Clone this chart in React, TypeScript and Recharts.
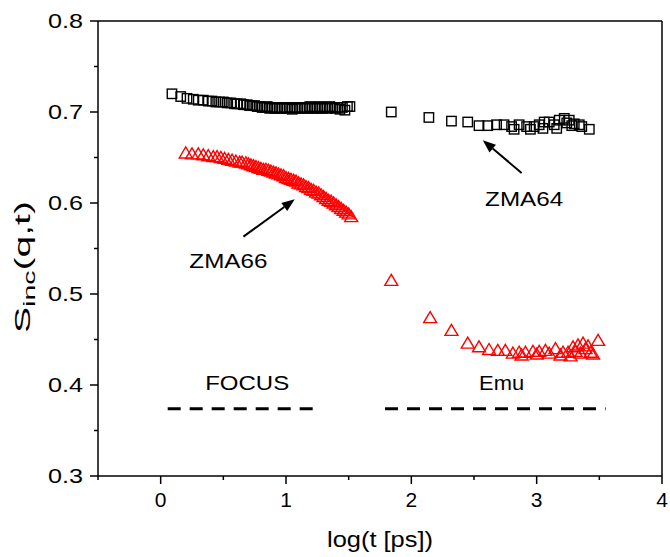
import React from 'react';
import { ScatterChart, Scatter, XAxis, YAxis, ReferenceLine, ReferenceDot } from 'recharts';

// ZMA64, FOCUS part (log t, S_inc)
const zma64FocusX = [0.09, 0.16, 0.21, 0.26, 0.3, 0.34, 0.38, 0.41, 0.44, 0.47, 0.5, 0.53, 0.56, 0.59, 0.61, 0.64, 0.66, 0.69, 0.71, 0.73, 0.75, 0.77, 0.79, 0.81, 0.83, 0.85, 0.87, 0.89, 0.91, 0.93, 0.95, 0.97, 0.99, 1.01, 1.03, 1.05, 1.07, 1.09, 1.11, 1.13, 1.15, 1.17, 1.19, 1.21, 1.23, 1.25, 1.27, 1.29, 1.31, 1.33, 1.35, 1.37, 1.39, 1.41, 1.43, 1.45, 1.47, 1.49, 1.51];
const zma64FocusY = [0.72, 0.717, 0.715, 0.714, 0.713, 0.713, 0.712, 0.712, 0.711, 0.711, 0.711, 0.71, 0.71, 0.709, 0.709, 0.709, 0.708, 0.708, 0.707, 0.707, 0.707, 0.706, 0.706, 0.705, 0.705, 0.706, 0.704, 0.705, 0.704, 0.705, 0.704, 0.704, 0.705, 0.704, 0.705, 0.703, 0.705, 0.704, 0.705, 0.704, 0.705, 0.704, 0.706, 0.704, 0.705, 0.704, 0.706, 0.704, 0.705, 0.704, 0.706, 0.705, 0.704, 0.705, 0.703, 0.705, 0.702, 0.706, 0.706];

// ZMA64, Emu part
const zma64EmuX = [1.84, 2.14, 2.32, 2.45, 2.54, 2.61, 2.68, 2.74, 2.8, 2.82, 2.86, 2.92, 2.95, 2.98, 3.02, 3.05, 3.06, 3.1, 3.14, 3.16, 3.18, 3.22, 3.24, 3.26, 3.28, 3.3, 3.34, 3.36, 3.42];
const zma64EmuY = [0.7, 0.694, 0.69, 0.689, 0.685, 0.685, 0.686, 0.686, 0.684, 0.681, 0.686, 0.684, 0.681, 0.684, 0.686, 0.682, 0.689, 0.689, 0.686, 0.682, 0.691, 0.693, 0.688, 0.691, 0.685, 0.687, 0.686, 0.684, 0.681];

// ZMA66, FOCUS part
const zma66FocusX = [0.2, 0.25, 0.3, 0.34, 0.38, 0.42, 0.45, 0.48, 0.51, 0.54, 0.57, 0.6, 0.63, 0.65, 0.68, 0.7, 0.72, 0.74, 0.76, 0.78, 0.8, 0.82, 0.84, 0.86, 0.88, 0.9, 0.92, 0.94, 0.96, 0.98, 1.0, 1.02, 1.04, 1.06, 1.08, 1.1, 1.12, 1.14, 1.16, 1.18, 1.2, 1.22, 1.24, 1.26, 1.28, 1.3, 1.32, 1.34, 1.36, 1.38, 1.4, 1.42, 1.44, 1.46, 1.48, 1.5, 1.52];
const zma66FocusY = [0.655, 0.654, 0.654, 0.653, 0.652, 0.651, 0.651, 0.65, 0.649, 0.648, 0.647, 0.646, 0.645, 0.645, 0.644, 0.643, 0.642, 0.641, 0.64, 0.639, 0.638, 0.637, 0.637, 0.636, 0.635, 0.634, 0.633, 0.632, 0.631, 0.63, 0.628, 0.627, 0.626, 0.625, 0.624, 0.622, 0.621, 0.62, 0.618, 0.617, 0.615, 0.614, 0.612, 0.611, 0.609, 0.607, 0.605, 0.603, 0.602, 0.6, 0.598, 0.596, 0.594, 0.592, 0.59, 0.588, 0.585];

// ZMA66, Emu part
const zma66EmuX = [1.84, 2.15, 2.32, 2.45, 2.54, 2.62, 2.69, 2.75, 2.81, 2.86, 2.88, 2.91, 2.97, 3.0, 3.02, 3.07, 3.1, 3.15, 3.19, 3.21, 3.25, 3.27, 3.29, 3.31, 3.33, 3.35, 3.37, 3.39, 3.41, 3.43, 3.45, 3.49];
const zma66EmuY = [0.515, 0.474, 0.46, 0.446, 0.442, 0.439, 0.438, 0.438, 0.435, 0.436, 0.433, 0.436, 0.437, 0.434, 0.437, 0.438, 0.435, 0.44, 0.433, 0.436, 0.436, 0.432, 0.442, 0.437, 0.444, 0.435, 0.446, 0.44, 0.443, 0.436, 0.434, 0.449];

const xTicks = [-0.5, 0, 0.5, 1, 1.5, 2, 2.5, 3, 3.5, 4];
const yTicks = [0.3, 0.35, 0.4, 0.45, 0.5, 0.55, 0.6, 0.65, 0.7, 0.75, 0.8];

const toPoints = (xs: number[], ys: number[]) => xs.map((x, i) => ({ x, y: ys[i] }));

const FONT = '"Liberation Sans", Arial, sans-serif';

const HollowSquare = (props: any) => {
  const { cx, cy } = props;
  return <rect x={cx - 4.7} y={cy - 4.7} width={9.4} height={9.4} fill="none" stroke="#000" strokeWidth={1.4} />;
};

const HollowTriangle = (props: any) => {
  const { cx, cy } = props;
  return (
    <polygon
      points={`${cx},${cy - 6} ${cx - 6.5},${cy + 5} ${cx + 6.5},${cy + 5}`}
      fill="none"
      stroke="#ff0000"
      strokeWidth={1.4}
    />
  );
};

const XTick = (props: any) => {
  const { x, y, payload } = props;
  const major = Number.isInteger(payload.value);
  return (
    <g>
      <line x1={x} x2={x} y1={y} y2={y + (major ? 8 : 4)} stroke="#000" strokeWidth={1.5} />
      {major && (
        <text x={x} y={y + 31} textAnchor="middle" fontSize={21} fontFamily={FONT} fill="#000">
          {payload.value}
        </text>
      )}
    </g>
  );
};

const YTick = (props: any) => {
  const { x, y, payload } = props;
  const v = payload.value * 10;
  const major = Math.abs(v - Math.round(v)) < 1e-6;
  return (
    <g>
      <line x1={x} x2={x - (major ? 8 : 4)} y1={y} y2={y} stroke="#000" strokeWidth={1.5} />
      {major && (
        <text
          x={x - 15}
          y={y + 7}
          textAnchor="end"
          fontSize={21}
          fontFamily={FONT}
          fill="#000"
          textLength={35}
          lengthAdjust="spacingAndGlyphs"
        >
          {payload.value.toFixed(1)}
        </text>
      )}
    </g>
  );
};

const Arrow = (props: any) => {
  const { x1, y1, x2, y2 } = props;
  const a = Math.atan2(y2 - y1, x2 - x1);
  const len = 13;
  const w = 5;
  const bx = x2 - len * Math.cos(a);
  const by = y2 - len * Math.sin(a);
  const p1 = `${bx + w * Math.sin(a)},${by - w * Math.cos(a)}`;
  const p2 = `${bx - w * Math.sin(a)},${by + w * Math.cos(a)}`;
  return (
    <g>
      <line x1={x1} y1={y1} x2={bx} y2={by} stroke="#000" strokeWidth={2} />
      <polygon points={`${x2},${y2} ${p1} ${p2}`} fill="#000" />
    </g>
  );
};

const textShape = (s: string, w: number) => (p: any) => (
  <text
    x={p.cx}
    y={p.cy + 7.5}
    textAnchor="middle"
    fontSize={21}
    fontFamily={FONT}
    fill="#000"
    textLength={w}
    lengthAdjust="spacingAndGlyphs"
  >
    {s}
  </text>
);

const YLabel = () => (
  <text
    transform="translate(30, 267) rotate(-90)"
    textAnchor="middle"
    fontSize={22}
    fontFamily={FONT}
    fill="#000"
    textLength={132}
    lengthAdjust="spacingAndGlyphs"
  >
    S
    <tspan dy={5} fontSize={16}>inc</tspan>
    <tspan dy={-5} fontSize={22}>(q,t)</tspan>
  </text>
);

const XLabel = () => (
  <text
    x={380}
    y={547}
    textAnchor="middle"
    fontSize={22}
    fontFamily={FONT}
    fill="#000"
    textLength={106}
    lengthAdjust="spacingAndGlyphs"
  >
    log(t [ps])
  </text>
);

export default function App() {
  return (
    <div style={{ position: 'absolute', left: 0, top: 0, background: '#fff' }}>
      <ScatterChart width={670} height={557} margin={{ top: 21, right: 8, bottom: 0, left: 0 }}>
        <XAxis
          type="number"
          dataKey="x"
          domain={[-0.5, 4]}
          ticks={xTicks}
          tick={<XTick />}
          tickLine={false}
          tickSize={0}
          tickMargin={0}
          height={81}
          axisLine={{ stroke: '#000', strokeWidth: 1.5 }}
          allowDataOverflow
          label={<XLabel />}
        />
        <YAxis
          type="number"
          dataKey="y"
          domain={[0.3, 0.8]}
          ticks={yTicks}
          tick={<YTick />}
          tickLine={false}
          tickSize={0}
          tickMargin={0}
          width={98}
          axisLine={{ stroke: '#000', strokeWidth: 1.5 }}
          allowDataOverflow
          label={<YLabel />}
        />
        <ReferenceLine y={0.8} stroke="#000" strokeWidth={1.5} />
        <ReferenceLine x={4} stroke="#000" strokeWidth={1.5} />

        <Scatter data={toPoints(zma64FocusX, zma64FocusY)} shape={<HollowSquare />} isAnimationActive={false} />
        <Scatter data={toPoints(zma64EmuX, zma64EmuY)} shape={<HollowSquare />} isAnimationActive={false} />
        <Scatter data={toPoints(zma66FocusX, zma66FocusY)} shape={<HollowTriangle />} isAnimationActive={false} />
        <Scatter data={toPoints(zma66EmuX, zma66EmuY)} shape={<HollowTriangle />} isAnimationActive={false} />

        <ReferenceLine
          segment={[{ x: 0.056, y: 0.374 }, { x: 1.25, y: 0.374 }]}
          stroke="#000"
          strokeWidth={3}
          strokeDasharray="13 9"
        />
        <ReferenceLine
          segment={[{ x: 1.79, y: 0.374 }, { x: 3.55, y: 0.374 }]}
          stroke="#000"
          strokeWidth={3}
          strokeDasharray="13 9"
        />

        <ReferenceLine segment={[{ x: 0.66, y: 0.563 }, { x: 1.07, y: 0.604 }]} shape={Arrow} />
        <ReferenceLine segment={[{ x: 2.88, y: 0.633 }, { x: 2.57, y: 0.669 }]} shape={Arrow} />

        <ReferenceDot x={0.54} y={0.537} r={0} shape={textShape('ZMA66', 78)} />
        <ReferenceDot x={2.9} y={0.605} r={0} shape={textShape('ZMA64', 78)} />
        <ReferenceDot x={0.69} y={0.403} r={0} shape={textShape('FOCUS', 84)} />
        <ReferenceDot x={2.72} y={0.403} r={0} shape={textShape('Emu', 45)} />
      </ScatterChart>
    </div>
  );
}
